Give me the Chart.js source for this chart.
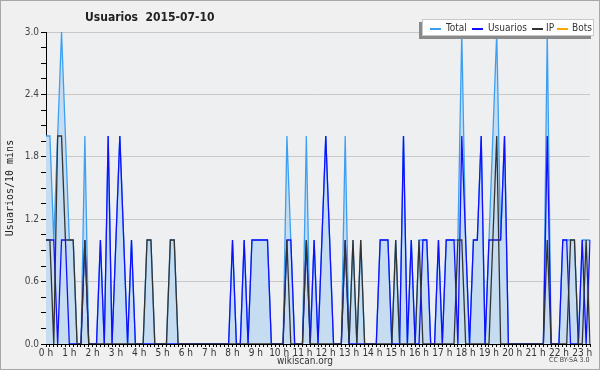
<!DOCTYPE html>
<html lang="es">
<head>
<meta charset="UTF-8">
<title>Usuarios 2015-07-10</title>
<script src="https://cdn.jsdelivr.net/npm/chart.js"></script>
<style>
  body { margin: 0; background: #f0f0f0; }
  #wrap { position: relative; width: 600px; height: 370px; background: #f0f0f0; }
  #frame { position: absolute; left: 0; top: 0; width: 600px; height: 370px; box-sizing: border-box;
           border: 1px solid #a8a8a8; pointer-events: none; }
  .txt { position: absolute; white-space: nowrap; color: #222;
         font-family: 'DejaVu Sans Condensed', 'DejaVu Sans', sans-serif; font-stretch: condensed; }
  #title { left: 85px; top: 10px; font-size: 12px; font-weight: bold; }
  #legend { position: absolute; left: 422px; top: 19px; width: 172px; height: 17px; box-sizing: border-box;
            background: #fff; border: 1px solid #c8c8c8; box-shadow: -3px 3px 0 #8a8a8a; }
  #legend .ln { position: absolute; top: 8px; height: 1.5px; }
  #legend .lb { position: absolute; top: 2px; font-size: 10px; color: #333; }
  #site { left: 277px; top: 355px; font-size: 10px; color: #333; }
  #lic { left: 549px; top: 356px; font-size: 7px; color: #444; }
</style>
</head>
<body>
<div id="wrap">
  <canvas id="chart" width="600" height="370"></canvas>
  <div id="title" class="txt">Usuarios&nbsp;&nbsp;2015-07-10</div>
  <div id="legend"></div>
  <div id="site" class="txt">wikiscan.org</div>
  <div id="lic" class="txt">CC BY-SA 3.0</div>
  <div id="frame"></div>
</div>

<script>
// etiquetas de las horas (una cada 6 intervalos de 10 min)
const hourLabels = ['0 h', '1 h', '2 h', '3 h', '4 h', '5 h', '6 h', '7 h', '8 h', '9 h', '10 h', '11 h',
  '12 h', '13 h', '14 h', '15 h', '16 h', '17 h', '18 h', '19 h', '20 h', '21 h', '22 h', '23 h'];

// usuarios por intervalo de 10 minutos, 00:00 .. 23:20
const total = [
  2, 2, 1, 2, 3, 2, 1, 1, 0, 0, 2, 0,
  0, 0, 1, 0, 2, 0, 1, 2, 1, 0, 1, 0,
  0, 0, 1, 1, 0, 0, 0, 0, 1, 1, 0, 0,
  0, 0, 0, 0, 0, 0, 0, 0, 0, 0, 0, 0,
  1, 0, 0, 1, 0, 1, 1, 1, 1, 1, 0, 0,
  0, 0, 2, 1, 0, 0, 0, 2, 0, 1, 0, 1,
  2, 1, 0, 0, 0, 2, 0, 1, 0, 1, 0, 0,
  0, 0, 1, 1, 1, 0, 1, 0, 2, 0, 1, 0,
  1, 1, 1, 0, 0, 1, 0, 1, 1, 1, 1, 3,
  1, 0, 1, 1, 2, 0, 1, 2, 3, 1, 2, 0,
  0, 0, 0, 0, 0, 0, 0, 0, 0, 3, 0, 0,
  0, 1, 1, 1, 1, 0, 1, 1, 1
];
const usuarios = [
  1, 1, 1, 0, 1, 1, 0, 0, 0, 0, 1, 0,
  0, 0, 1, 0, 2, 0, 1, 2, 1, 0, 1, 0,
  0, 0, 0, 0, 0, 0, 0, 0, 0, 0, 0, 0,
  0, 0, 0, 0, 0, 0, 0, 0, 0, 0, 0, 0,
  1, 0, 0, 1, 0, 1, 1, 1, 1, 1, 0, 0,
  0, 0, 1, 1, 0, 0, 0, 1, 0, 1, 0, 1,
  2, 1, 0, 0, 0, 1, 0, 0, 0, 0, 0, 0,
  0, 0, 1, 1, 1, 0, 0, 0, 2, 0, 1, 0,
  0, 1, 1, 0, 0, 1, 0, 1, 1, 1, 0, 2,
  1, 0, 1, 1, 2, 0, 1, 1, 1, 1, 2, 0,
  0, 0, 0, 0, 0, 0, 0, 0, 0, 2, 0, 0,
  0, 1, 1, 0, 0, 0, 1, 0, 1
];
const ip = [
  1, 1, 0, 2, 2, 1, 1, 1, 0, 0, 1, 0,
  0, 0, 0, 0, 0, 0, 0, 0, 0, 0, 0, 0,
  0, 0, 1, 1, 0, 0, 0, 0, 1, 1, 0, 0,
  0, 0, 0, 0, 0, 0, 0, 0, 0, 0, 0, 0,
  0, 0, 0, 0, 0, 0, 0, 0, 0, 0, 0, 0,
  0, 0, 1, 0, 0, 0, 0, 1, 0, 0, 0, 0,
  0, 0, 0, 0, 0, 1, 0, 1, 0, 1, 0, 0,
  0, 0, 0, 0, 0, 0, 1, 0, 0, 0, 0, 0,
  1, 0, 0, 0, 0, 0, 0, 0, 0, 0, 1, 1,
  0, 0, 0, 0, 0, 0, 0, 1, 2, 0, 0, 0,
  0, 0, 0, 0, 0, 0, 0, 0, 0, 1, 0, 0,
  0, 0, 0, 1, 1, 0, 0, 1, 0
];
const bots = [
  0, 0, 0, 0, 0, 0, 0, 0, 0, 0, 0, 0,
  0, 0, 0, 0, 0, 0, 0, 0, 0, 0, 0, 0,
  0, 0, 0, 0, 0, 0, 0, 0, 0, 0, 0, 0,
  0, 0, 0, 0, 0, 0, 0, 0, 0, 0, 0, 0,
  0, 0, 0, 0, 0, 0, 0, 0, 0, 0, 0, 0,
  0, 0, 0, 0, 0, 0, 0, 0, 0, 0, 0, 0,
  0, 0, 0, 0, 0, 0, 0, 0, 0, 0, 0, 0,
  0, 0, 0, 0, 0, 0, 0, 0, 0, 0, 0, 0,
  0, 0, 0, 0, 0, 0, 0, 0, 0, 0, 0, 0,
  0, 0, 0, 0, 0, 0, 0, 0, 0, 0, 0, 0,
  0, 0, 0, 0, 0, 0, 0, 0, 0, 0, 0, 0,
  0, 0, 0, 0, 0, 0, 0, 0, 0
];

const seriesNames = ['Total', 'Usuarios', 'IP', 'Bots'];
const seriesColors = ['#3d9ff0', '#1010ff', '#333333', '#ffa500'];

// categorias: intervalos de 10 min
const slots = total.map((_, i) => String(Math.floor(i / 6)).padStart(2, '0') + ':' + (i % 6) + '0');

const FONT = "'DejaVu Sans Condensed', 'DejaVu Sans', sans-serif";

// leyenda arriba a la derecha
const legendPos = [[7, 23], [49, 65], [109, 123], [134, 149]];
const legendEl = document.getElementById('legend');
seriesNames.forEach((name, k) => {
  const ln = document.createElement('div');
  ln.className = 'ln';
  ln.style.left = legendPos[k][0] + 'px';
  ln.style.width = '11px';
  ln.style.background = seriesColors[k];
  const lb = document.createElement('div');
  lb.className = 'lb txt';
  lb.style.left = legendPos[k][1] + 'px';
  lb.textContent = name;
  legendEl.appendChild(ln);
  legendEl.appendChild(lb);
});

// fondo del area del grafico
const plotBg = {
  id: 'plotBg',
  beforeDraw(chart) {
    const { ctx, chartArea: a } = chart;
    ctx.save();
    ctx.fillStyle = '#eeeff1';
    ctx.fillRect(a.left, a.top, a.right - a.left, a.bottom - a.top);
    ctx.restore();
  }
};

const line = (label, data, color, order, extra) => Object.assign({
  label, data, order,
  borderColor: color,
  borderWidth: 1.3,
  pointRadius: 0,
  tension: 0,
  fill: false
}, extra || {});

new Chart(document.getElementById('chart'), {
  type: 'line',
  data: {
    labels: slots,
    datasets: [
      line('Total', total, seriesColors[0], 4, { fill: 'origin', backgroundColor: '#c6ddf1' }),
      line('Usuarios', usuarios, seriesColors[1], 3),
      line('IP', ip, seriesColors[2], 2),
      line('Bots', bots, seriesColors[3], 1, { hidden: true })
    ]
  },
  options: {
    responsive: false,
    animation: false,
    devicePixelRatio: 1,
    layout: { padding: { left: 0, right: 10, top: 32, bottom: 0 } },
    plugins: { legend: { display: false }, title: { display: false }, tooltip: { enabled: false } },
    scales: {
      x: {
        type: 'category',
        offset: false,
        afterFit: s => { s.height = 26; },
        ticks: {
          autoSkip: false, maxRotation: 0, minRotation: 0, padding: 0,
          color: '#333', font: { family: FONT, size: 10 },
          callback: (v, i) => (i % 6 === 0 ? hourLabels[i / 6] : '')
        },
        grid: { drawOnChartArea: false, tickColor: '#000', tickLength: 3 },
        border: { color: '#000', width: 1 }
      },
      y: {
        min: 0, max: 3,
        afterFit: s => { s.width = 46; },
        afterBuildTicks: s => {
          const t = [];
          for (let k = 0; k <= 20; k++) t.push({ value: +(k * 0.15).toFixed(2) });
          s.ticks = t;
        },
        ticks: {
          padding: 2, color: '#444', font: { family: FONT, size: 10 },
          callback: (v, i) => (i % 4 === 0 ? v.toFixed(1) : '')
        },
        grid: {
          color: c => (c.index % 4 === 0 && c.index > 0 ? '#c8c8c8' : 'rgba(0,0,0,0)'),
          tickColor: '#000', tickLength: 5
        },
        border: { color: '#000', width: 1 },
        title: {
          display: true, text: 'Usuarios/10 mins', color: '#222',
          font: { family: "'DejaVu Sans Mono', monospace", size: 10 },
          padding: { top: 4, bottom: 0 }
        }
      }
    }
  },
  plugins: [plotBg]
});
</script>
</body>
</html>
